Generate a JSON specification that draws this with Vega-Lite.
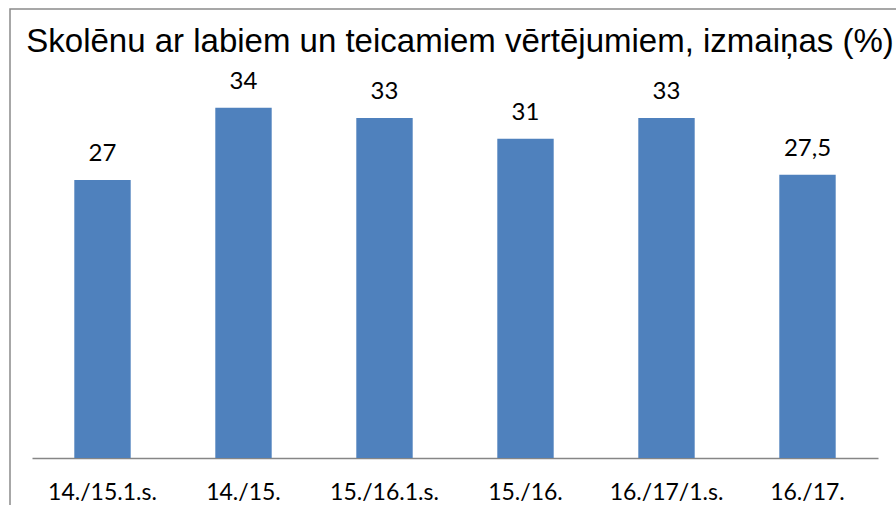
{
  "$schema": "https://vega.github.io/schema/vega-lite/v6.json",
  "autosize": "none",
  "padding": {"left": 10, "top": 9, "right": 0, "bottom": 0},
  "width": 900,
  "height": 500,
  "background": "white",
  "view": {"stroke": "#8a8a8a", "strokeWidth": 1.5, "fill": "white"},
  "title": {
    "text": "Skolēnu ar labiem un teicamiem vērtējumiem, izmaiņas (%)",
    "font": "Liberation Sans",
    "fontSize": 33,
    "fontWeight": "normal",
    "color": "#000000",
    "anchor": "middle",
    "frame": "group",
    "offset": -50
  },
  "data": {
    "values": [
      {"period": "14./15.1.s.", "value": 27, "label": "27"},
      {"period": "14./15.", "value": 34, "label": "34"},
      {"period": "15./16.1.s.", "value": 33, "label": "33"},
      {"period": "15./16.", "value": 31, "label": "31"},
      {"period": "16./17/1.s.", "value": 33, "label": "33"},
      {"period": "16./17.", "value": 27.5, "label": "27,5"}
    ]
  },
  "encoding": {
    "x": {
      "field": "period",
      "type": "nominal",
      "sort": null,
      "scale": {"range": [22, 868], "paddingInner": 0.6, "paddingOuter": 0.3},
      "axis": {
        "title": null,
        "orient": "bottom",
        "offset": -51,
        "labelAngle": 0,
        "ticks": false,
        "domainColor": "#868686",
        "domainWidth": 1.5,
        "labelFont": "Lato",
        "labelFontSize": 23,
        "labelColor": "#000000",
        "labelPadding": 23
      }
    },
    "y": {
      "field": "value",
      "type": "quantitative",
      "scale": {"domain": [0, 40], "range": [449, 37], "nice": false, "zero": true},
      "axis": null
    }
  },
  "layer": [
    {"mark": {"type": "bar", "color": "#4F81BD"}},
    {
      "mark": {"type": "text", "font": "Lato", "fontSize": 24, "color": "#000000", "baseline": "alphabetic", "dy": -19},
      "encoding": {"text": {"field": "label"}}
    }
  ]
}
